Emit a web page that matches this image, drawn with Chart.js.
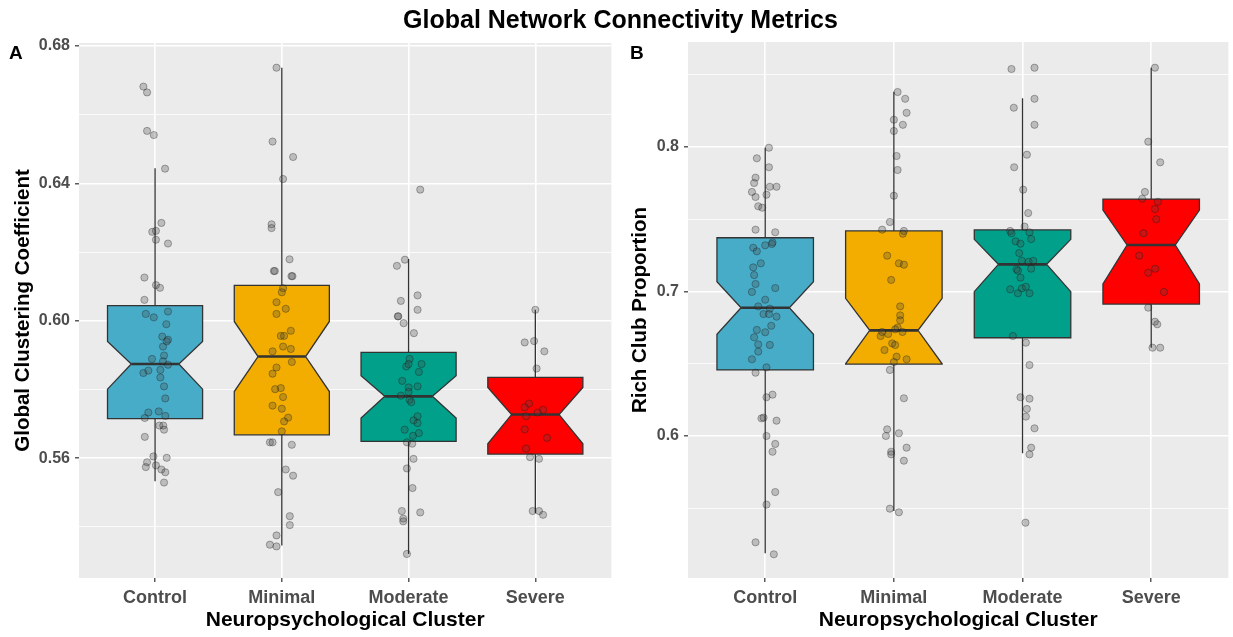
<!DOCTYPE html>
<html>
<head>
<meta charset="utf-8">
<script src="https://cdn.jsdelivr.net/npm/chart.js@4.4.1/dist/chart.umd.min.js"></script>
<style>
    body { margin: 0; background: #fff; font-family: 'Liberation Sans', Arial, sans-serif; }
    #page { position: relative; width: 1233px; height: 637px; overflow: hidden; }
    #titulo { position: absolute; left: 4px; top: 0; width: 1233px; height: 38px; line-height: 38px;
        text-align: center; font-weight: bold; font-size: 25px; color: #000; }
    .letra { position: absolute; top: 43px; font-weight: bold; font-size: 19px; line-height: 19px; color: #000; }
    .painel { position: absolute; top: 0; height: 637px; }
</style>
</head>
<body>
<div id="page">
    <div class="painel" style="left:0; width:616px;"><canvas id="graficoA"></canvas></div>
    <div class="painel" style="left:616px; width:617px;"><canvas id="graficoB"></canvas></div>
    <div id="titulo">Global Network Connectivity Metrics</div>
    <div class="letra" style="left:9px;">A</div>
    <div class="letra" style="left:630px;">B</div>
</div>
<script>
const categories = ['Control', 'Minimal', 'Moderate', 'Severe'];

// Painel A - Global Clustering Coefficient
const clusteringTicks = [0.56, 0.60, 0.64, 0.68];
const clusteringMinorTicks = [0.54, 0.58, 0.62, 0.66];

const clusteringWhiskerLow = [0.5533, 0.5346, 0.5321, 0.5440];
const clusteringQ1 = [0.5715, 0.5668, 0.5649, 0.5612];
const clusteringNotchLow = [0.5801, 0.5794, 0.5717, 0.5642];
const clusteringMedian = [0.5874, 0.5896, 0.5780, 0.5727];
const clusteringNotchHigh = [0.5940, 0.5998, 0.5840, 0.5806];
const clusteringQ3 = [0.6044, 0.6103, 0.5908, 0.5835];
const clusteringWhiskerHigh = [0.6444, 0.6737, 0.6180, 0.6032];

const clusteringControl = [0.6682, 0.6665, 0.6553, 0.6541, 0.6443, 0.6285, 0.6259, 0.6262, 0.6236, 0.6225,
    0.6126, 0.6104, 0.6096, 0.6061, 0.6020, 0.6010, 0.6027, 0.5990, 0.5954, 0.5945,
    0.5940, 0.5925, 0.5899, 0.5889, 0.5882, 0.5872, 0.5848, 0.5855, 0.5857, 0.5835,
    0.5809, 0.5774, 0.5733, 0.5736, 0.5717, 0.5723, 0.5695, 0.5695, 0.5683, 0.5662,
    0.5605, 0.5601, 0.5588, 0.5574, 0.5579, 0.5567, 0.5559, 0.5529];
const clusteringControlJitter = [-0.092, -0.063, -0.063, -0.010, 0.079, 0.050, -0.022, 0.007, 0.007, 0.102,
    -0.084, 0.007, 0.039, -0.084, -0.073, -0.010, 0.102, 0.089, 0.057, 0.102,
    0.092, 0.063, 0.071, -0.024, 0.063, 0.102, -0.092, -0.053, 0.042, 0.042,
    0.071, 0.081, -0.053, 0.029, -0.081, 0.081, 0.034, 0.065, 0.071, -0.081,
    -0.013, 0.092, -0.063, -0.073, 0.007, 0.050, 0.081, 0.071];

const clusteringMinimal = [0.6737, 0.6522, 0.6477, 0.6413, 0.6281, 0.6270, 0.6179, 0.6145, 0.6145, 0.6130,
    0.6130, 0.6095, 0.6083, 0.6054, 0.6035, 0.6020, 0.5971, 0.5956, 0.5956, 0.5925,
    0.5918, 0.5911, 0.5880, 0.5864, 0.5846, 0.5804, 0.5801, 0.5778, 0.5753, 0.5744,
    0.5718, 0.5707, 0.5678, 0.5646, 0.5646, 0.5639, 0.5567, 0.5549, 0.5501, 0.5431,
    0.5405, 0.5375, 0.5348, 0.5343];
const clusteringMinimalJitter = [-0.042, -0.073, 0.089, 0.010, -0.081, -0.081, 0.061, -0.063, -0.055, 0.084,
    0.076, 0.010, 0.000, -0.042, 0.031, -0.042, 0.071, -0.008, 0.018, 0.010,
    0.071, -0.073, 0.079, -0.042, -0.073, -0.008, -0.053, 0.010, -0.073, 0.000,
    0.050, 0.018, 0.000, -0.094, -0.073, 0.079, 0.031, 0.089, -0.029, 0.063,
    0.063, -0.042, -0.094, -0.042];

const clusteringModerate = [0.6382, 0.6178, 0.6160, 0.6074, 0.6058, 0.6032, 0.6013, 0.6013, 0.5993, 0.5964,
    0.5889, 0.5867, 0.5874, 0.5874, 0.5851, 0.5825, 0.5809, 0.5806, 0.5793, 0.5782,
    0.5770, 0.5763, 0.5722, 0.5710, 0.5702, 0.5683, 0.5673, 0.5665, 0.5646, 0.5642,
    0.5598, 0.5570, 0.5513, 0.5446, 0.5442, 0.5424, 0.5416, 0.5321];
const clusteringModerateJitter = [0.092, -0.029, -0.092, 0.071, -0.061, 0.071, -0.081, -0.085, -0.039, 0.042,
    0.008, -0.018, 0.102, 0.000, 0.081, -0.050, 0.071, 0.000, 0.000, -0.061,
    0.008, 0.021, 0.071, 0.039, 0.071, -0.031, 0.081, 0.034, -0.013, 0.029,
    0.039, -0.013, 0.031, -0.053, 0.092, -0.042, -0.042, -0.013];

const clusteringSevere = [0.6032, 0.5937, 0.5941, 0.5911, 0.5861, 0.5759, 0.5748, 0.5722, 0.5733, 0.5741,
    0.5684, 0.5659, 0.5628, 0.5603, 0.5598, 0.5446, 0.5446, 0.5435];
const clusteringSevereJitter = [0.000, -0.084, -0.010, 0.071, 0.010, -0.050, -0.084, -0.073, 0.018, 0.061,
    -0.084, 0.092, -0.073, -0.042, 0.029, -0.021, 0.029, 0.061];

// Painel B - Rich Club Proportion
const richTicks = [0.6, 0.7, 0.8];
const richMinorTicks = [0.55, 0.65, 0.75, 0.85];

const richWhiskerLow = [0.5188, 0.5481, 0.5880, 0.6611];
const richQ1 = [0.6457, 0.6498, 0.6680, 0.6913];
const richNotchLow = [0.6704, 0.6500, 0.6999, 0.7052];
const richMedian = [0.6888, 0.6731, 0.7188, 0.7322];
const richNotchHigh = [0.7068, 0.6953, 0.7361, 0.7564];
const richQ3 = [0.7372, 0.7419, 0.7426, 0.7640];
const richWhiskerHigh = [0.7995, 0.8383, 0.8337, 0.8549];

const richControl = [0.7995, 0.7922, 0.7860, 0.7788, 0.7751, 0.7725, 0.7725, 0.7689, 0.7670, 0.7654,
    0.7590, 0.7580, 0.7428, 0.7410, 0.7340, 0.7329, 0.7320, 0.7303, 0.7278, 0.7195,
    0.7167, 0.7114, 0.7052, 0.7024, 0.6997, 0.6943, 0.6897, 0.6881, 0.6844, 0.6844,
    0.6826, 0.6763, 0.6734, 0.6718, 0.6683, 0.6634, 0.6630, 0.6584, 0.6531, 0.6475,
    0.6438, 0.6286, 0.6268, 0.6122, 0.6127, 0.6106, 0.6000, 0.5945, 0.5891, 0.5612,
    0.5525, 0.5264, 0.5181];
const richControlJitter = [0.029, -0.065, 0.029, -0.075, -0.086, 0.036, 0.088, -0.103, 0.010, -0.075,
    -0.054, -0.023, -0.075, 0.078, 0.057, 0.052, 0.000, -0.093, -0.065, -0.034,
    -0.093, -0.086, -0.075, 0.078, -0.103, 0.000, -0.054, 0.036, -0.013, 0.029,
    0.088, 0.047, -0.065, 0.000, -0.086, -0.054, 0.036, -0.054, -0.103, 0.010,
    -0.075, 0.057, 0.010, -0.029, -0.013, 0.088, 0.010, 0.078, 0.057, 0.078,
    0.010, -0.075, 0.067];

const richMinimal = [0.8381, 0.8334, 0.8237, 0.8189, 0.8154, 0.8111, 0.7938, 0.7841, 0.7663, 0.7481,
    0.7428, 0.7419, 0.7400, 0.7248, 0.7195, 0.7186, 0.7080, 0.6897, 0.6835, 0.6801,
    0.6750, 0.6738, 0.6720, 0.6706, 0.6720, 0.6692, 0.6641, 0.6630, 0.6595, 0.6549,
    0.6531, 0.6512, 0.6457, 0.6261, 0.6046, 0.6000, 0.6019, 0.5919, 0.5891, 0.5873,
    0.5829, 0.5497, 0.5472];
const richMinimalJitter = [0.029, 0.088, 0.099, 0.000, 0.070, 0.000, 0.021, 0.029, 0.000, -0.031,
    -0.091, 0.078, 0.070, -0.052, 0.039, 0.078, -0.021, 0.049, 0.049, 0.049,
    0.029, 0.010, -0.091, -0.044, 0.067, -0.103, -0.013, 0.010, -0.073, 0.021,
    0.099, 0.000, -0.031, 0.078, -0.052, -0.062, 0.039, 0.099, -0.021, -0.021,
    0.078, -0.031, 0.039];

const richModerate = [0.8540, 0.8549, 0.8334, 0.8272, 0.8154, 0.7947, 0.7860, 0.7705, 0.7543, 0.7449,
    0.7419, 0.7403, 0.7410, 0.7363, 0.7347, 0.7331, 0.7266, 0.7213, 0.7206, 0.7213,
    0.7154, 0.7144, 0.7158, 0.7096, 0.7015, 0.7022, 0.7033, 0.6988, 0.6988, 0.6692,
    0.6646, 0.6491, 0.6268, 0.6258, 0.6187, 0.6134, 0.6053, 0.5919, 0.5873, 0.5400];
const richModerateJitter = [-0.086, 0.093, 0.093, -0.068, 0.093, 0.034, -0.065, 0.005, 0.044, 0.016,
    -0.096, -0.086, 0.054, 0.067, -0.054, -0.016, -0.026, -0.005, 0.047, 0.083,
    -0.047, -0.036, 0.067, -0.016, -0.096, -0.005, 0.026, -0.036, 0.054, -0.075,
    0.026, 0.054, -0.016, 0.054, 0.034, 0.026, 0.093, 0.067, 0.054, 0.023];

const richSevere = [0.8549, 0.8037, 0.7894, 0.7689, 0.7642, 0.7621, 0.7571, 0.7500, 0.7403, 0.7248,
    0.7158, 0.7130, 0.6997, 0.6888, 0.6791, 0.6773, 0.6611, 0.6611];
const richSevereJitter = [0.029, -0.023, 0.070, -0.049, -0.070, 0.052, 0.029, 0.039, -0.060, -0.093,
    0.031, -0.023, 0.099, -0.023, 0.029, 0.047, 0.010, 0.070];

const coresCaixas = ['#46ACC8', '#F2AD00', '#00A08A', '#FF0000'];
const corTexto = '#4D4D4D';
const fonte = "'Liberation Sans', Arial, Helvetica, sans-serif";

function montarPontos(grupos, jitters) {
    return grupos.map(function (valores, i) {
        return {
            label: categories[i],
            data: valores.map((v, k) => ({ x: i + 1 + jitters[i][k], y: v })),
            pointRadius: 3.6,
            pointHoverRadius: 3.6,
            backgroundColor: 'rgba(70, 70, 70, 0.28)',
            borderColor: 'rgba(20, 20, 20, 0.32)',
            borderWidth: 1
        };
    });
}

function pluginCaixas(stats) {
    return {
        id: 'caixasNotch',
        beforeDraw(chart) {
            const a = chart.chartArea;
            const ctx = chart.ctx;
            ctx.save();
            ctx.fillStyle = '#EBEBEB';
            ctx.fillRect(a.left, a.top, a.right - a.left, a.bottom - a.top);
            ctx.restore();
        },
        beforeDatasetsDraw(chart) {
            const ctx = chart.ctx;
            const xs = chart.scales.x;
            const ys = chart.scales.y;
            ctx.save();
            for (let i = 0; i < categories.length; i++) {
                const cx = xs.getPixelForValue(i + 1);
                const hw = xs.getPixelForValue(i + 1 + 0.375) - cx;
                const nw = hw / 2;
                const py = v => ys.getPixelForValue(v);

                // bigodes
                ctx.strokeStyle = '#333333';
                ctx.lineWidth = 1.3;
                ctx.beginPath();
                ctx.moveTo(cx, py(stats.q3[i]));
                ctx.lineTo(cx, py(stats.whiskerHigh[i]));
                ctx.moveTo(cx, py(stats.q1[i]));
                ctx.lineTo(cx, py(stats.whiskerLow[i]));
                ctx.stroke();

                // caixa com entalhe
                ctx.beginPath();
                ctx.moveTo(cx - hw, py(stats.q3[i]));
                ctx.lineTo(cx - hw, py(stats.notchHigh[i]));
                ctx.lineTo(cx - nw, py(stats.median[i]));
                ctx.lineTo(cx - hw, py(stats.notchLow[i]));
                ctx.lineTo(cx - hw, py(stats.q1[i]));
                ctx.lineTo(cx + hw, py(stats.q1[i]));
                ctx.lineTo(cx + hw, py(stats.notchLow[i]));
                ctx.lineTo(cx + nw, py(stats.median[i]));
                ctx.lineTo(cx + hw, py(stats.notchHigh[i]));
                ctx.lineTo(cx + hw, py(stats.q3[i]));
                ctx.closePath();
                ctx.fillStyle = coresCaixas[i];
                ctx.fill();
                ctx.lineJoin = 'miter';
                ctx.stroke();

                // mediana
                ctx.lineWidth = 2.6;
                ctx.beginPath();
                ctx.moveTo(cx - nw, py(stats.median[i]));
                ctx.lineTo(cx + nw, py(stats.median[i]));
                ctx.stroke();
            }
            ctx.restore();
        }
    };
}

function plotarPainel(canvasId, cfg) {
    const todosTicks = cfg.ticks.concat(cfg.minorTicks).sort((a, b) => a - b);
    const ehMaior = v => cfg.ticks.some(t => Math.abs(t - v) < 1e-9);

    return new Chart(document.getElementById(canvasId).getContext('2d'), {
        type: 'scatter',
        data: { datasets: montarPontos(cfg.grupos, cfg.jitters) },
        options: {
            responsive: true,
            maintainAspectRatio: false,
            animation: false,
            layout: { padding: cfg.padding },
            plugins: {
                legend: { display: false },
                tooltip: { enabled: false },
                title: { display: false }
            },
            scales: {
                x: {
                    type: 'linear',
                    min: 0.4,
                    max: 4.6,
                    afterBuildTicks: function (scale) {
                        scale.ticks = categories.map((c, i) => ({ value: i + 1 }));
                    },
                    afterFit: function (scale) { scale.height = 59; },
                    border: { display: false },
                    grid: {
                        color: '#FFFFFF',
                        lineWidth: 1.6,
                        tickLength: 4,
                        tickColor: '#333333',
                        tickWidth: 1.2
                    },
                    ticks: {
                        autoSkip: false,
                        maxRotation: 0,
                        padding: 5,
                        color: corTexto,
                        font: { family: fonte, size: 18, weight: 'bold' },
                        callback: v => categories[Math.round(v) - 1]
                    },
                    title: {
                        display: true,
                        text: 'Neuropsychological Cluster',
                        color: '#000',
                        padding: { top: 0, bottom: 4 },
                        font: { family: fonte, size: 21, weight: 'bold' }
                    }
                },
                y: {
                    type: 'linear',
                    min: cfg.min,
                    max: cfg.max,
                    afterBuildTicks: function (scale) {
                        scale.ticks = todosTicks.map(v => ({ value: v }));
                    },
                    afterFit: function (scale) { scale.width = cfg.eixoLargura; },
                    border: { display: false },
                    grid: {
                        color: '#FFFFFF',
                        lineWidth: ctx => ehMaior(ctx.tick.value) ? 1.6 : 0.8,
                        tickLength: 4,
                        tickColor: ctx => ehMaior(ctx.tick.value) ? '#333333' : 'rgba(0,0,0,0)',
                        tickWidth: 1.2
                    },
                    ticks: {
                        autoSkip: false,
                        padding: 5,
                        color: corTexto,
                        font: { family: fonte, size: 16, weight: 'bold' },
                        callback: v => ehMaior(v) ? v.toFixed(cfg.casas) : ''
                    },
                    title: {
                        display: true,
                        text: cfg.tituloY,
                        color: '#000',
                        padding: { top: cfg.tituloPad, bottom: 0 },
                        font: { family: fonte, size: 20.5, weight: 'bold' }
                    }
                }
            }
        },
        plugins: [pluginCaixas(cfg.stats)]
    });
}

plotarPainel('graficoA', {
    grupos: [clusteringControl, clusteringMinimal, clusteringModerate, clusteringSevere],
    jitters: [clusteringControlJitter, clusteringMinimalJitter, clusteringModerateJitter, clusteringSevereJitter],
    stats: {
        whiskerLow: clusteringWhiskerLow, q1: clusteringQ1, notchLow: clusteringNotchLow,
        median: clusteringMedian, notchHigh: clusteringNotchHigh, q3: clusteringQ3,
        whiskerHigh: clusteringWhiskerHigh
    },
    ticks: clusteringTicks,
    minorTicks: clusteringMinorTicks,
    min: 0.5251,
    max: 0.6809,
    casas: 2,
    tituloY: 'Global Clustering Coefficient',
    tituloPad: 11,
    eixoLargura: 79,
    padding: { top: 43, right: 4, left: 0, bottom: 0 }
});

plotarPainel('graficoB', {
    grupos: [richControl, richMinimal, richModerate, richSevere],
    jitters: [richControlJitter, richMinimalJitter, richModerateJitter, richSevereJitter],
    stats: {
        whiskerLow: richWhiskerLow, q1: richQ1, notchLow: richNotchLow,
        median: richMedian, notchHigh: richNotchHigh, q3: richQ3,
        whiskerHigh: richWhiskerHigh
    },
    ticks: richTicks,
    minorTicks: richMinorTicks,
    min: 0.5017,
    max: 0.8727,
    casas: 1,
    tituloY: 'Rich Club Proportion',
    tituloPad: 12,
    eixoLargura: 72,
    padding: { top: 42, right: 3, left: 0, bottom: 0 }
});
</script>
</body>
</html>
